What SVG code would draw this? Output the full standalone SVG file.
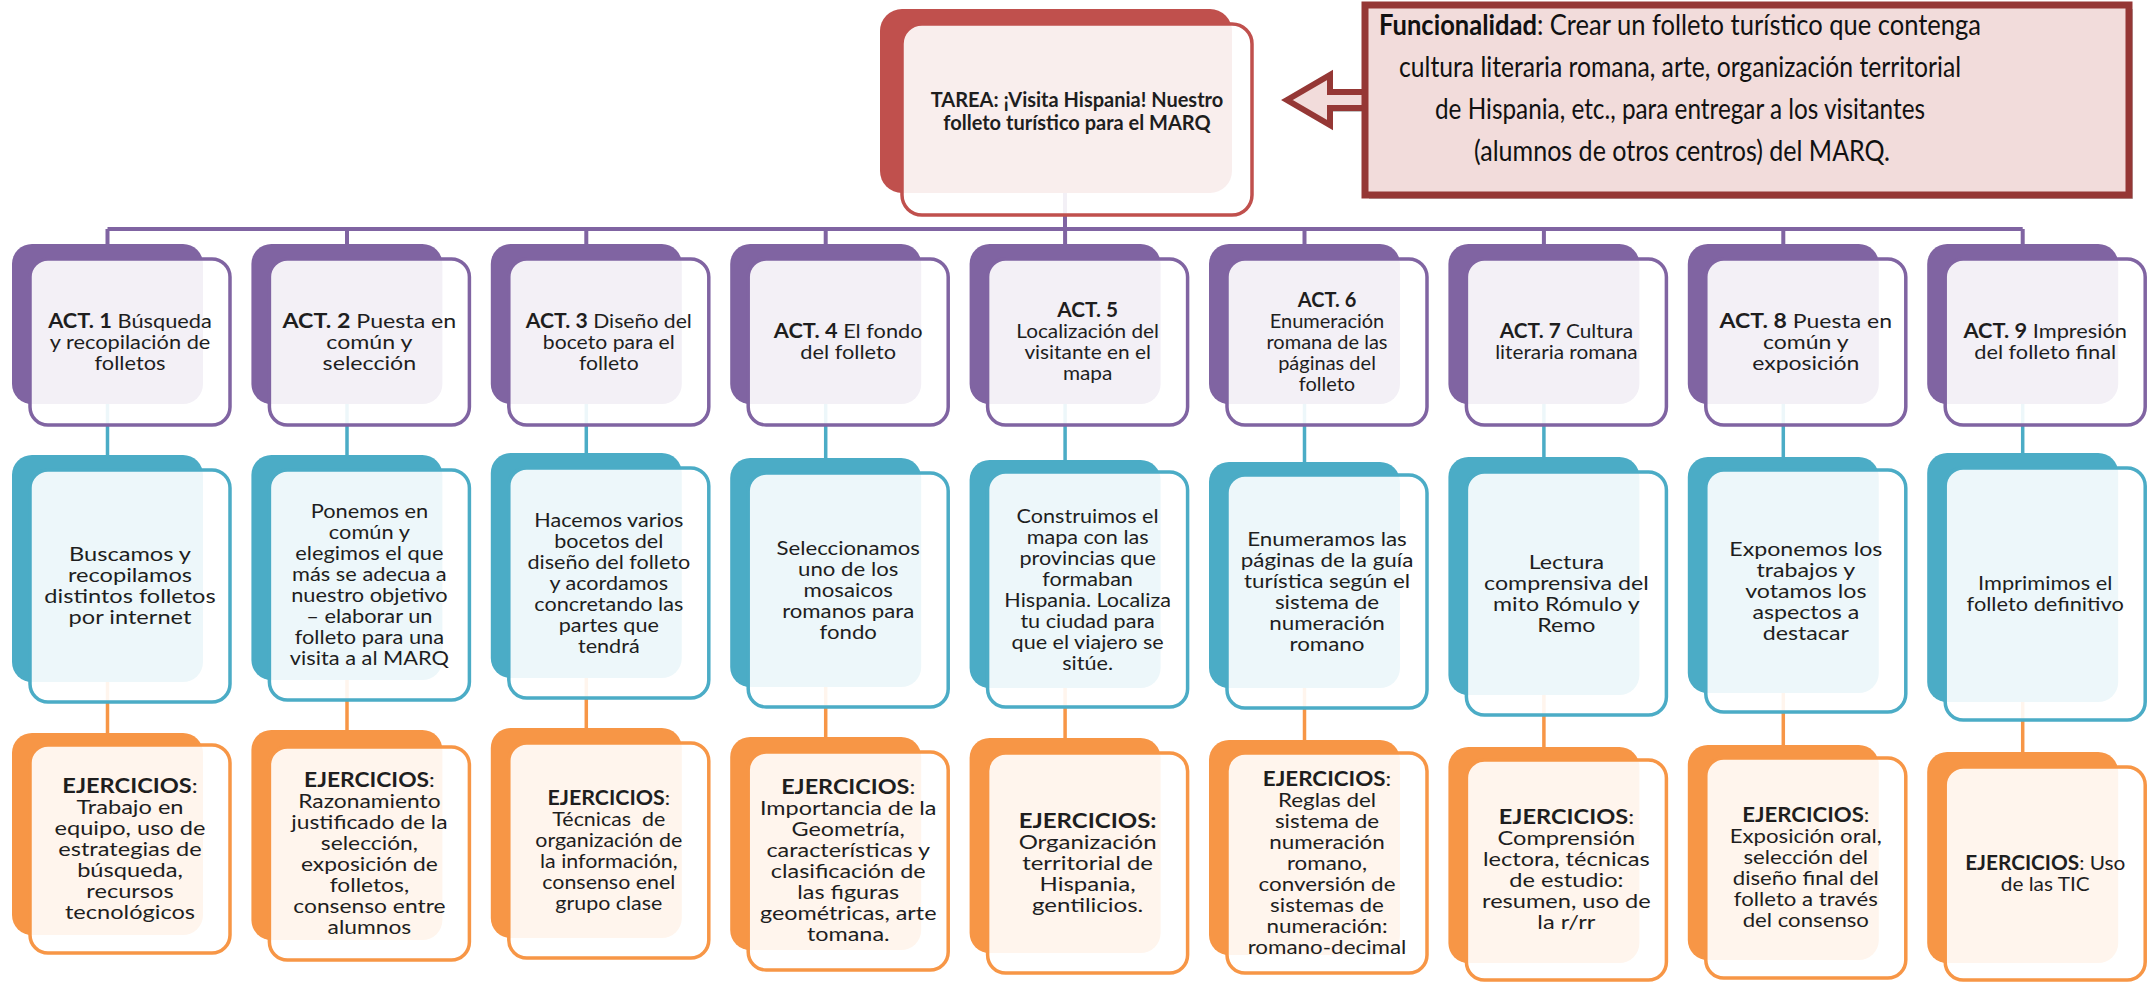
<svg xmlns="http://www.w3.org/2000/svg" width="2147" height="982" viewBox="0 0 2147 982">
<style>
.t{font-family:Lato,"Liberation Sans",sans-serif;font-size:20px;fill:#1e1e1e;text-anchor:middle}
.b{font-weight:bold}
.pb{fill:#8064A2}.pf{fill:#fff;fill-opacity:.9;stroke:#8064A2;stroke-width:3.5}
.tb{fill:#4BACC6}.tf{fill:#fff;fill-opacity:.9;stroke:#4BACC6;stroke-width:3.5}
.ob{fill:#F79646}.of{fill:#fff;fill-opacity:.9;stroke:#F79646;stroke-width:3.5}
.rb{fill:#C0504D}.rf{fill:#fff;fill-opacity:.9;stroke:#C0504D;stroke-width:3.5}
.cp{stroke:#8064A2;stroke-width:4;fill:none}
.ct{stroke:#4BACC6;stroke-width:3.5;fill:none}
.co{stroke:#F79646;stroke-width:3.5;fill:none}
.fn{font-family:Lato,"Liberation Sans",sans-serif;font-size:28px;fill:#111;text-anchor:middle}
</style>
<rect width="2147" height="982" fill="#fff"/>
<g id="connectors">
<path class="cp" d="M1065 193V229M107.5 229H2022.7M107.5 229V246M347 229V246M586.3 229V246M825.7 229V246M1065.1 229V246M1304.5 229V246M1543.9 229V246M1783.3 229V246M2022.7 229V246"/>
<path class="ct" d="M107.5 404V457M347 404V457M586.3 404V455M825.7 404V460M1065.1 404V462M1304.5 404V464M1543.9 404V459M1783.3 404V459M2022.7 404V455"/>
<path class="co" d="M107.5 682V735M347 680V732M586.3 678V730M825.7 687V739M1065.1 688V740M1304.5 688V742M1543.9 695V749M1783.3 693V747M2022.7 702V754"/>
</g>
<g id="tarea">
<rect class="rb" x="880" y="9" width="352" height="184" rx="22"/>
<rect class="rf" x="902" y="24" width="350" height="191" rx="20"/>
<text class="t b" x="1077" y="107" font-size="20">TAREA: ¡Visita Hispania! Nuestro<tspan x="1077" dy="23">folleto turístico para el MARQ</tspan></text>
</g>
<g id="funcionalidad">
<rect x="1369" y="9" width="764" height="190" fill="#9a9a9a" opacity=".6"/>
<polygon points="1290,104 1333,80 1333,96 1372,96 1372,112 1333,112 1333,128" fill="#9a9a9a" opacity=".6"/>
<polygon points="1287,100 1330,75 1330,92 1372,92 1372,108 1330,108 1330,125" fill="#F2DCDB" stroke="#953735" stroke-width="6" stroke-linejoin="miter"/>
<rect x="1365" y="5" width="764" height="190" fill="#F2DCDB" stroke="#953735" stroke-width="7"/>
<text class="fn" x="1680" y="35" textLength="602" lengthAdjust="spacingAndGlyphs"><tspan font-weight="bold">Funcionalidad</tspan>: Crear un folleto turístico que contenga</text>
<text class="fn" x="1680" y="77" textLength="562" lengthAdjust="spacingAndGlyphs">cultura literaria romana, arte, organización territorial</text>
<text class="fn" x="1680" y="119" textLength="490" lengthAdjust="spacingAndGlyphs">de Hispania, etc., para entregar a los visitantes</text>
<text class="fn" x="1682" y="161" textLength="416" lengthAdjust="spacingAndGlyphs">(alumnos de otros centros) del MARQ.</text>
</g>
<g id="act1"><rect class="pb" x="12" y="244" width="191" height="160" rx="20"/><rect class="pf" x="30" y="259" width="200" height="166" rx="18"/>
<g transform="translate(130 0) scale(1.09 1)"><text class="t" x="0" y="328"><tspan class="b">ACT. 1</tspan> Búsqueda<tspan x="0" dy="21">y recopilación de</tspan><tspan x="0" dy="21">folletos</tspan></text></g></g>
<g id="act2"><rect class="pb" x="251.4" y="244" width="191" height="160" rx="20"/><rect class="pf" x="269.4" y="259" width="200" height="166" rx="18"/>
<g transform="translate(369.4 0) scale(1.16 1)"><text class="t" x="0" y="328"><tspan class="b">ACT. 2</tspan> Puesta en<tspan x="0" dy="21">común y</tspan><tspan x="0" dy="21">selección</tspan></text></g></g>
<g id="act3"><rect class="pb" x="490.8" y="244" width="191" height="160" rx="20"/><rect class="pf" x="508.8" y="259" width="200" height="166" rx="18"/>
<g transform="translate(608.8 0) scale(1.06 1)"><text class="t" x="0" y="328"><tspan class="b">ACT. 3</tspan> Diseño del<tspan x="0" dy="21">boceto para el</tspan><tspan x="0" dy="21">folleto</tspan></text></g></g>
<g id="act4"><rect class="pb" x="730.2" y="244" width="191" height="160" rx="20"/><rect class="pf" x="748.2" y="259" width="200" height="166" rx="18"/>
<g transform="translate(848.2 0) scale(1.09 1)"><text class="t" x="0" y="338.5"><tspan class="b">ACT. 4</tspan> El fondo<tspan x="0" dy="21">del folleto</tspan></text></g></g>
<g id="act5"><rect class="pb" x="969.6" y="244" width="191" height="160" rx="20"/><rect class="pf" x="987.6" y="259" width="200" height="166" rx="18"/>
<g transform="translate(1087.6 0) scale(1.04 1)"><text class="t" x="0" y="317.5"><tspan class="b">ACT. 5</tspan><tspan x="0" dy="21">Localización del</tspan><tspan x="0" dy="21">visitante en el</tspan><tspan x="0" dy="21">mapa</tspan></text></g></g>
<g id="act6"><rect class="pb" x="1209" y="244" width="191" height="160" rx="20"/><rect class="pf" x="1227" y="259" width="200" height="166" rx="18"/>
<g transform="translate(1327 0) scale(1 1)"><text class="t" x="0" y="307"><tspan class="b">ACT. 6</tspan><tspan x="0" dy="21">Enumeración</tspan><tspan x="0" dy="21">romana de las</tspan><tspan x="0" dy="21">páginas del</tspan><tspan x="0" dy="21">folleto</tspan></text></g></g>
<g id="act7"><rect class="pb" x="1448.4" y="244" width="191" height="160" rx="20"/><rect class="pf" x="1466.4" y="259" width="200" height="166" rx="18"/>
<g transform="translate(1566.4 0) scale(1.04 1)"><text class="t" x="0" y="338.5"><tspan class="b">ACT. 7</tspan> Cultura<tspan x="0" dy="21">literaria romana</tspan></text></g></g>
<g id="act8"><rect class="pb" x="1687.8" y="244" width="191" height="160" rx="20"/><rect class="pf" x="1705.8" y="259" width="200" height="166" rx="18"/>
<g transform="translate(1805.8 0) scale(1.15 1)"><text class="t" x="0" y="328"><tspan class="b">ACT. 8</tspan> Puesta en<tspan x="0" dy="21">común y</tspan><tspan x="0" dy="21">exposición</tspan></text></g></g>
<g id="act9"><rect class="pb" x="1927.2" y="244" width="191" height="160" rx="20"/><rect class="pf" x="1945.2" y="259" width="200" height="166" rx="18"/>
<g transform="translate(2045.2 0) scale(1.09 1)"><text class="t" x="0" y="338.5"><tspan class="b">ACT. 9</tspan> Impresión<tspan x="0" dy="21">del folleto final</tspan></text></g></g>
<g id="desc1"><rect class="tb" x="12" y="455" width="191" height="227" rx="20"/><rect class="tf" x="30" y="470" width="200" height="232" rx="18"/>
<g transform="translate(130 0) scale(1.18 1)"><text class="t" x="0" y="561.5">Buscamos y<tspan x="0" dy="21">recopilamos</tspan><tspan x="0" dy="21">distintos folletos</tspan><tspan x="0" dy="21">por internet</tspan></text></g></g>
<g id="desc2"><rect class="tb" x="251.4" y="455" width="191" height="225" rx="20"/><rect class="tf" x="269.4" y="470" width="200" height="230" rx="18"/>
<g transform="translate(369.4 0) scale(1.09 1)"><text class="t" x="0" y="518.5">Ponemos en<tspan x="0" dy="21">común y</tspan><tspan x="0" dy="21">elegimos el que</tspan><tspan x="0" dy="21">más se adecua a</tspan><tspan x="0" dy="21">nuestro objetivo</tspan><tspan x="0" dy="21">– elaborar un</tspan><tspan x="0" dy="21">folleto para una</tspan><tspan x="0" dy="21">visita a al MARQ</tspan></text></g></g>
<g id="desc3"><rect class="tb" x="490.8" y="453" width="191" height="225" rx="20"/><rect class="tf" x="508.8" y="468" width="200" height="230" rx="18"/>
<g transform="translate(608.8 0) scale(1.08 1)"><text class="t" x="0" y="527">Hacemos varios<tspan x="0" dy="21">bocetos del</tspan><tspan x="0" dy="21">diseño del folleto</tspan><tspan x="0" dy="21">y acordamos</tspan><tspan x="0" dy="21">concretando las</tspan><tspan x="0" dy="21">partes que</tspan><tspan x="0" dy="21">tendrá</tspan></text></g></g>
<g id="desc4"><rect class="tb" x="730.2" y="458" width="191" height="229" rx="20"/><rect class="tf" x="748.2" y="473" width="200" height="234" rx="18"/>
<g transform="translate(848.2 0) scale(1.11 1)"><text class="t" x="0" y="555">Seleccionamos<tspan x="0" dy="21">uno de los</tspan><tspan x="0" dy="21">mosaicos</tspan><tspan x="0" dy="21">romanos para</tspan><tspan x="0" dy="21">fondo</tspan></text></g></g>
<g id="desc5"><rect class="tb" x="969.6" y="460" width="191" height="228" rx="20"/><rect class="tf" x="987.6" y="472" width="200" height="235" rx="18"/>
<g transform="translate(1087.6 0) scale(1.08 1)"><text class="t" x="0" y="523">Construimos el<tspan x="0" dy="21">mapa con las</tspan><tspan x="0" dy="21">provincias que</tspan><tspan x="0" dy="21">formaban</tspan><tspan x="0" dy="21">Hispania. Localiza</tspan><tspan x="0" dy="21">tu ciudad para</tspan><tspan x="0" dy="21">que el viajero se</tspan><tspan x="0" dy="21">sitúe.</tspan></text></g></g>
<g id="desc6"><rect class="tb" x="1209" y="462" width="191" height="226" rx="20"/><rect class="tf" x="1227" y="475" width="200" height="233" rx="18"/>
<g transform="translate(1327 0) scale(1.12 1)"><text class="t" x="0" y="546">Enumeramos las<tspan x="0" dy="21">páginas de la guía</tspan><tspan x="0" dy="21">turística según el</tspan><tspan x="0" dy="21">sistema de</tspan><tspan x="0" dy="21">numeración</tspan><tspan x="0" dy="21">romano</tspan></text></g></g>
<g id="desc7"><rect class="tb" x="1448.4" y="457" width="191" height="238" rx="20"/><rect class="tf" x="1466.4" y="472" width="200" height="243" rx="18"/>
<g transform="translate(1566.4 0) scale(1.16 1)"><text class="t" x="0" y="569">Lectura<tspan x="0" dy="21">comprensiva del</tspan><tspan x="0" dy="21">mito Rómulo y</tspan><tspan x="0" dy="21">Remo</tspan></text></g></g>
<g id="desc8"><rect class="tb" x="1687.8" y="457" width="191" height="236" rx="20"/><rect class="tf" x="1705.8" y="470" width="200" height="242" rx="18"/>
<g transform="translate(1805.8 0) scale(1.16 1)"><text class="t" x="0" y="556">Exponemos los<tspan x="0" dy="21">trabajos y</tspan><tspan x="0" dy="21">votamos los</tspan><tspan x="0" dy="21">aspectos a</tspan><tspan x="0" dy="21">destacar</tspan></text></g></g>
<g id="desc9"><rect class="tb" x="1927.2" y="453" width="191" height="249" rx="20"/><rect class="tf" x="1945.2" y="468" width="200" height="252" rx="18"/>
<g transform="translate(2045.2 0) scale(1.09 1)"><text class="t" x="0" y="590.5">Imprimimos el<tspan x="0" dy="21">folleto definitivo</tspan></text></g></g>
<g id="ej1"><rect class="ob" x="12" y="733" width="191" height="202" rx="20"/><rect class="of" x="30" y="745" width="200" height="208" rx="18"/>
<g transform="translate(130 0) scale(1.18 1)"><text class="t" x="0" y="793"><tspan class="b">EJERCICIOS</tspan>:<tspan x="0" dy="21">Trabajo en</tspan><tspan x="0" dy="21">equipo, uso de</tspan><tspan x="0" dy="21">estrategias de</tspan><tspan x="0" dy="21">búsqueda,</tspan><tspan x="0" dy="21">recursos</tspan><tspan x="0" dy="21">tecnológicos</tspan></text></g></g>
<g id="ej2"><rect class="ob" x="251.4" y="730" width="191" height="210" rx="20"/><rect class="of" x="269.4" y="747" width="200" height="213" rx="18"/>
<g transform="translate(369.4 0) scale(1.14 1)"><text class="t" x="0" y="787"><tspan class="b">EJERCICIOS</tspan>:<tspan x="0" dy="21">Razonamiento</tspan><tspan x="0" dy="21">justificado de la</tspan><tspan x="0" dy="21">selección,</tspan><tspan x="0" dy="21">exposición de</tspan><tspan x="0" dy="21">folletos,</tspan><tspan x="0" dy="21">consenso entre</tspan><tspan x="0" dy="21">alumnos</tspan></text></g></g>
<g id="ej3"><rect class="ob" x="490.8" y="728" width="191" height="210" rx="20"/><rect class="of" x="508.8" y="743" width="200" height="215" rx="18"/>
<g transform="translate(608.8 0) scale(1.07 1)"><text class="t" x="0" y="805"><tspan class="b">EJERCICIOS</tspan>:<tspan x="0" dy="21" xml:space="preserve">Técnicas  de</tspan><tspan x="0" dy="21">organización de</tspan><tspan x="0" dy="21">la información,</tspan><tspan x="0" dy="21">consenso enel</tspan><tspan x="0" dy="21">grupo clase</tspan></text></g></g>
<g id="ej4"><rect class="ob" x="730.2" y="737" width="191" height="213" rx="20"/><rect class="of" x="748.2" y="752" width="200" height="218" rx="18"/>
<g transform="translate(848.2 0) scale(1.17 1)"><text class="t" x="0" y="794.5"><tspan class="b">EJERCICIOS</tspan>:<tspan x="0" dy="21">Importancia de la</tspan><tspan x="0" dy="21">Geometría,</tspan><tspan x="0" dy="21">características y</tspan><tspan x="0" dy="21">clasificación de</tspan><tspan x="0" dy="21">las figuras</tspan><tspan x="0" dy="21">geométricas, arte</tspan><tspan x="0" dy="21">tomana.</tspan></text></g></g>
<g id="ej5"><rect class="ob" x="969.6" y="738" width="191" height="215" rx="20"/><rect class="of" x="987.6" y="753" width="200" height="220" rx="18"/>
<g transform="translate(1087.6 0) scale(1.2 1)"><text class="t" x="0" y="828"><tspan class="b">EJERCICIOS:</tspan><tspan x="0" dy="21">Organización</tspan><tspan x="0" dy="21">territorial de</tspan><tspan x="0" dy="21">Hispania,</tspan><tspan x="0" dy="21">gentilicios.</tspan></text></g></g>
<g id="ej6"><rect class="ob" x="1209" y="740" width="191" height="215" rx="20"/><rect class="of" x="1227" y="753" width="200" height="220" rx="18"/>
<g transform="translate(1327 0) scale(1.12 1)"><text class="t" x="0" y="786"><tspan class="b">EJERCICIOS</tspan>:<tspan x="0" dy="21">Reglas del</tspan><tspan x="0" dy="21">sistema de</tspan><tspan x="0" dy="21">numeración</tspan><tspan x="0" dy="21">romano,</tspan><tspan x="0" dy="21">conversión de</tspan><tspan x="0" dy="21">sistemas de</tspan><tspan x="0" dy="21">numeración:</tspan><tspan x="0" dy="21">romano-decimal</tspan></text></g></g>
<g id="ej7"><rect class="ob" x="1448.4" y="747" width="191" height="216" rx="20"/><rect class="of" x="1466.4" y="760" width="200" height="220" rx="18"/>
<g transform="translate(1566.4 0) scale(1.18 1)"><text class="t" x="0" y="824.5"><tspan class="b">EJERCICIOS</tspan>:<tspan x="0" dy="21">Comprensión</tspan><tspan x="0" dy="21">lectora, técnicas</tspan><tspan x="0" dy="21">de estudio:</tspan><tspan x="0" dy="21">resumen, uso de</tspan><tspan x="0" dy="21">la r/rr</tspan></text></g></g>
<g id="ej8"><rect class="ob" x="1687.8" y="745" width="191" height="215" rx="20"/><rect class="of" x="1705.8" y="758" width="200" height="220" rx="18"/>
<g transform="translate(1805.8 0) scale(1.11 1)"><text class="t" x="0" y="822.5"><tspan class="b">EJERCICIOS</tspan>:<tspan x="0" dy="21">Exposición oral,</tspan><tspan x="0" dy="21">selección del</tspan><tspan x="0" dy="21">diseño final del</tspan><tspan x="0" dy="21">folleto a través</tspan><tspan x="0" dy="21">del consenso</tspan></text></g></g>
<g id="ej9"><rect class="ob" x="1927.2" y="752" width="191" height="211" rx="20"/><rect class="of" x="1945.2" y="767" width="200" height="213" rx="18"/>
<g transform="translate(2045.2 0) scale(1.04 1)"><text class="t" x="0" y="870"><tspan class="b">EJERCICIOS</tspan>: Uso<tspan x="0" dy="21">de las TIC</tspan></text></g></g>
</svg>
